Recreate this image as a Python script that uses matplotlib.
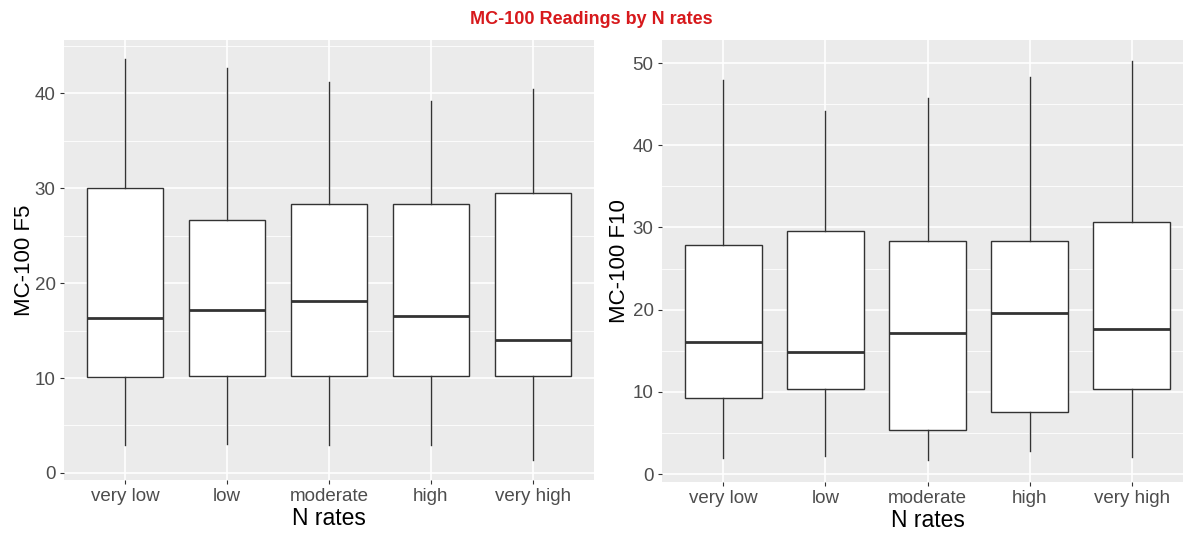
import matplotlib
matplotlib.use("Agg")
import matplotlib.pyplot as plt

plt.rcParams['font.family'] = ['Liberation Sans', 'DejaVu Sans']

categories = ["very low", "low", "moderate", "high", "very high"]

# F5 stats: whislo, q1, med, q3, whishi
f5_whislo = [2.9, 3.1, 2.9, 2.9, 1.4]
f5_q1 = [10.1, 10.2, 10.2, 10.2, 10.2]
f5_med = [16.3, 17.2, 18.1, 16.5, 14.0]
f5_q3 = [30.0, 26.6, 28.3, 28.3, 29.5]
f5_whishi = [43.6, 42.6, 41.2, 39.2, 40.4]

f10_whislo = [2.0, 2.2, 1.7, 2.8, 2.1]
f10_q1 = [9.2, 10.3, 5.4, 7.5, 10.4]
f10_med = [16.1, 14.8, 17.2, 19.6, 17.7]
f10_q3 = [27.9, 29.6, 28.4, 28.4, 30.7]
f10_whishi = [47.9, 44.2, 45.7, 48.3, 50.2]

W, H = 1183, 533
fig = plt.figure(figsize=(W / 100, H / 100), dpi=100)
fig.patch.set_facecolor("white")


def make_axes(l, r, t, b):
    return fig.add_axes([l / W, 1 - b / H, (r - l) / W, (b - t) / H])


def draw(ax, lo, q1, med, q3, hi, ylim, major, minor, ylabel, ypad):
    ax.set_facecolor("#EBEBEB")
    for s in ax.spines.values():
        s.set_visible(False)
    for m in minor:
        ax.axhline(m, color="white", lw=0.6, zorder=0)
    for m in major:
        ax.axhline(m, color="white", lw=1.2, zorder=0)
    for i in range(len(categories)):
        ax.axvline(i + 1, color="white", lw=1.2, zorder=0)
    stats = []
    for i, c in enumerate(categories):
        stats.append(dict(label=c, whislo=lo[i], q1=q1[i], med=med[i], q3=q3[i],
                          whishi=hi[i], fliers=[]))
    ax.bxp(stats, positions=range(1, len(categories) + 1), widths=0.75,
           showcaps=False, patch_artist=True,
           boxprops=dict(facecolor="white", edgecolor="#333333", lw=1.0),
           whiskerprops=dict(color="#333333", lw=1.0),
           medianprops=dict(color="#333333", lw=2.0),
           zorder=2)
    ax.set_xlim(0.4, len(categories) + 0.6)
    ax.set_ylim(*ylim)
    ax.set_yticks(major)
    ax.set_xticks(range(1, len(categories) + 1))
    ax.set_xticklabels(categories)
    ax.tick_params(axis="both", colors="#333333", length=3, width=0.8,
                   labelsize=13.5, labelcolor="#4D4D4D", pad=3)
    ax.set_xlabel("N rates", fontsize=16.5, color="black", labelpad=1)
    ax.set_ylabel(ylabel, fontsize=16, color="black", labelpad=ypad)


ax1 = make_axes(64, 594, 40, 480)
draw(ax1, f5_whislo, f5_q1, f5_med, f5_q3, f5_whishi, (-0.74, 45.6),
     [0, 10, 20, 30, 40], [5, 15, 25, 35, 45], "MC-100 F5", 0)

ax2 = make_axes(662, 1193, 40, 482)
draw(ax2, f10_whislo, f10_q1, f10_med, f10_q3, f10_whishi, (-0.97, 52.8),
     [0, 10, 20, 30, 40, 50], [5, 15, 25, 35, 45], "MC-100 F10", 2)

fig.text(0.5, 1 - 19 / H, "MC-100 Readings by N rates", color="#D7191C",
         fontsize=13, fontweight="bold", ha="center", va="center")

fig.savefig("out.png", dpi=100)
